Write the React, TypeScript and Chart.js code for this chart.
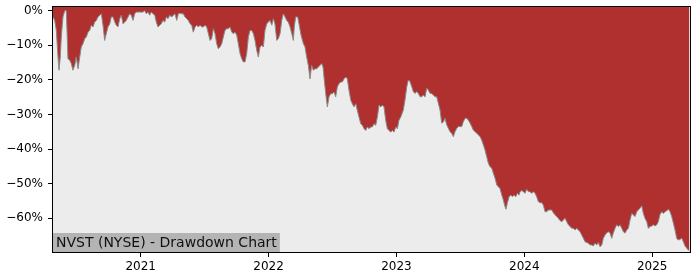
import React, { useEffect, useRef } from "react";
import { Chart, registerables } from "chart.js";

Chart.register(...registerables);

// Dates as decimal years
const dates: number[] = [
  2020.314, 2020.327, 2020.340, 2020.353, 2020.361, 2020.371, 2020.379, 2020.392, 2020.406, 2020.418,
  2020.431, 2020.445, 2020.457, 2020.470, 2020.484, 2020.496, 2020.510, 2020.523, 2020.535, 2020.549,
  2020.562, 2020.575, 2020.588, 2020.601, 2020.614, 2020.627, 2020.640, 2020.653, 2020.666, 2020.679,
  2020.692, 2020.705, 2020.718, 2020.731, 2020.744, 2020.758, 2020.770, 2020.783, 2020.797, 2020.809,
  2020.822, 2020.836, 2020.848, 2020.862, 2020.875, 2020.887, 2020.901, 2020.914, 2020.926, 2020.940,
  2020.953, 2020.966, 2020.992, 2021.018, 2021.031, 2021.044, 2021.057, 2021.070, 2021.083, 2021.096,
  2021.110, 2021.122, 2021.135, 2021.149, 2021.161, 2021.174, 2021.188, 2021.200, 2021.214, 2021.227,
  2021.242, 2021.255, 2021.268, 2021.282, 2021.294, 2021.307, 2021.321, 2021.333, 2021.346, 2021.360,
  2021.372, 2021.386, 2021.399, 2021.411, 2021.425, 2021.438, 2021.451, 2021.464, 2021.477, 2021.490,
  2021.503, 2021.516, 2021.529, 2021.542, 2021.555, 2021.568, 2021.581, 2021.594, 2021.607, 2021.620,
  2021.634, 2021.646, 2021.659, 2021.673, 2021.685, 2021.698, 2021.712, 2021.724, 2021.738, 2021.751,
  2021.763, 2021.777, 2021.790, 2021.802, 2021.816, 2021.829, 2021.842, 2021.855, 2021.868, 2021.881,
  2021.894, 2021.907, 2021.920, 2021.933, 2021.946, 2021.959, 2021.972, 2021.986, 2021.998, 2022.011,
  2022.025, 2022.037, 2022.050, 2022.064, 2022.076, 2022.090, 2022.103, 2022.115,
  2022.129, 2022.142, 2022.154, 2022.168, 2022.181, 2022.194, 2022.201, 2022.212, 2022.228, 2022.238,
  2022.254, 2022.272, 2022.285, 2022.298, 2022.311, 2022.324, 2022.337, 2022.350, 2022.363, 2022.377,
  2022.389, 2022.402, 2022.416, 2022.426, 2022.436, 2022.447, 2022.460, 2022.473, 2022.486, 2022.499,
  2022.512, 2022.525, 2022.538, 2022.551, 2022.564, 2022.577, 2022.590, 2022.603, 2022.616, 2022.629,
  2022.643, 2022.655, 2022.668, 2022.682, 2022.694, 2022.707, 2022.721, 2022.733, 2022.747, 2022.760,
  2022.772, 2022.786, 2022.799, 2022.811, 2022.825, 2022.838, 2022.851, 2022.864, 2022.877, 2022.890,
  2022.903, 2022.916, 2022.929, 2022.942, 2022.955, 2022.968, 2022.981, 2022.995, 2023.007, 2023.020,
  2023.034, 2023.054, 2023.067, 2023.081, 2023.093, 2023.106, 2023.120, 2023.132, 2023.145, 2023.159,
  2023.171, 2023.185, 2023.198, 2023.210, 2023.224, 2023.237, 2023.249, 2023.263, 2023.276, 2023.289,
  2023.302, 2023.315, 2023.328, 2023.341, 2023.354, 2023.367, 2023.380, 2023.393, 2023.406, 2023.419,
  2023.432, 2023.445, 2023.458, 2023.472, 2023.484, 2023.497, 2023.511, 2023.523, 2023.537, 2023.550,
  2023.562, 2023.576, 2023.589, 2023.601, 2023.615, 2023.628, 2023.641, 2023.654, 2023.667, 2023.680,
  2023.693, 2023.706, 2023.719, 2023.732, 2023.745, 2023.758, 2023.771, 2023.785, 2023.797, 2023.810,
  2023.824, 2023.836, 2023.849, 2023.857, 2023.867, 2023.881, 2023.894, 2023.907, 2023.920, 2023.933,
  2023.946, 2023.959,
  2023.967, 2023.980, 2023.993, 2024.006, 2024.019, 2024.032, 2024.045, 2024.058, 2024.071, 2024.084,
  2024.097, 2024.110, 2024.123, 2024.136, 2024.149, 2024.162, 2024.176, 2024.188, 2024.201, 2024.215,
  2024.227, 2024.240, 2024.254, 2024.266, 2024.280, 2024.293, 2024.305, 2024.319, 2024.332, 2024.345,
  2024.358, 2024.371, 2024.384, 2024.397, 2024.410, 2024.423, 2024.436, 2024.449, 2024.462, 2024.475,
  2024.488, 2024.501, 2024.514, 2024.528, 2024.540, 2024.553, 2024.567, 2024.579, 2024.592, 2024.606,
  2024.618, 2024.632, 2024.645, 2024.657, 2024.671, 2024.684, 2024.696, 2024.710, 2024.723, 2024.736,
  2024.749, 2024.762, 2024.775, 2024.788, 2024.801, 2024.814, 2024.827, 2024.840, 2024.853, 2024.866,
  2024.880, 2024.892, 2024.905, 2024.919, 2024.931, 2024.944, 2024.958, 2024.970, 2024.984, 2024.997,
  2025.009, 2025.023, 2025.036, 2025.048, 2025.061, 2025.075, 2025.088, 2025.100, 2025.114, 2025.127,
  2025.140, 2025.153, 2025.166, 2025.179, 2025.192, 2025.205, 2025.218, 2025.232, 2025.244, 2025.257,
  2025.271, 2025.283, 2025.291,
];

// Drawdown in percent
const drawdown: number[] = [
  -1.8, -2.8, -5.7, -13.4, -17.2, -13.4, -7.6, -1.8, 0, 0,
  -13.9, -14.3, -15.3, -17.2, -15.8, -13.4, -16.8, -13.4, -10.5, -9.5,
  -8.1, -7.6, -6.2, -5.7, -4.2, -4.7, -3.3, -2.8, -1.8, -1.3,
  -0.9, -4.2, -8.6, -6.6, -4.7, -3.8, -1.8, -1.8, -3.3, -4.2,
  -4.7, -2.3, -1.3, -3.8, -3.3, -2.8, -1.8, -0.9, -1.3, -2.8,
  -0.9, -0.4, -0.4, -0.4, 0, -0.9, -0.4, -1.3, -0.4, -0.9,
  -1.3, -3.3, -4.7, -4.2, -3.8, -2.8, -3.3, -1.8, -2.3, -1.3,
  -1.8, -1.3, -0.9, -2.8, -0.9, -0.7, -0.9, -0.9, -1.8, -2.3,
  -2.8, -3.8, -4.2, -6.2, -4.7, -4.2, -4.7, -4.2, -4.7, -4.7,
  -4.2, -4.7, -6.6, -8.6, -8.1, -5.2, -6.6, -9.5, -11, -10.5,
  -9.5, -7.6, -5.7, -5.2, -5.2, -4.7, -6.2, -6.6, -6.2, -7.1,
  -9.5, -12.4, -13.9, -14.8, -14.8, -12.4, -7.6, -5.7, -5.7, -6.6,
  -8.6, -11.4, -13.4, -10.5, -10, -10.5, -5.7, -3.8, -3.3, -2.8,
  -4.2, -2.3, -3.8, -8.6, -8.1, -6.6, -2.8, -0.9,
  -1.8, -2.8, -3.3, -4.7, -6.6, -8.6, -4.7, -1.8, -1.8, -3.8,
  -7.1, -9.5, -10.5, -13.4, -15.8, -19.7, -15.8, -17.2, -16.8, -16.8,
  -16.3, -15.8, -15.3, -16.3, -20.1, -24, -27.8, -24.9, -24, -24,
  -23.5, -24.9, -22, -21.1, -20.6, -20.6, -19.7, -19.2, -19.7, -23,
  -25.9, -26.9, -27.8, -26.9, -28.8, -30.7, -32.7, -33.1, -34.1, -34.6,
  -33.6, -34.1, -33.6, -33.6, -32.7, -33.1, -30.7, -27.3, -27.8, -27.3,
  -27.8, -31.7, -34.1, -34.6, -35.1, -34.6, -35.1, -33.6, -34.1, -31.7,
  -30.7, -28.7, -25.8, -22, -20, -20.5, -22, -23.4, -23.9, -23.4,
  -23.9, -24.9, -24.9, -24.4, -24.9, -22.4, -22.9, -23.9, -23.9, -24.4,
  -24.9, -24.9, -26.8, -28.7, -32.5, -32.2, -31.1, -33, -34, -35,
  -35.4, -36.4, -35, -34, -33.5, -33.5, -33.5, -32.1, -31.1, -31.1,
  -31.6, -32.5, -33.5, -34.5, -35, -35.4, -35.9, -36.4, -37.4, -38.8,
  -40.3, -42.2, -44.1, -45.1, -45.5, -47, -48.4, -50.4, -50.9, -51.4,
  -53.3, -54.7, -56.6, -57.4, -55.7, -53.8, -53.3, -53.8, -53.3, -53.8,
  -52.8, -53.3,
  -52.3, -52, -52.3, -52.8, -51.6, -52.3, -52.3, -52.8, -52.3, -52.8,
  -53.8, -55.2, -55.5, -55.5, -56.2, -58.1, -58.1, -57.6, -57.6, -57.6,
  -58.4, -59, -59.5, -60, -60.7, -61, -60.5, -60, -61, -61.9,
  -62.4, -62.9, -62.9, -63.4, -62.9, -63.4, -63.9, -64.8, -65.8, -66.8,
  -67, -67.2, -67.7, -67.7, -68, -67.2, -67.7, -67, -68.2, -67.7,
  -65.8, -64.8, -64.2, -63.9, -64.3, -65.8, -64.3, -62.9, -61.9, -62.4,
  -61.9, -62.9, -63.9, -64.3, -63.4, -62.9, -60.5, -58.6, -59, -59.5,
  -58.1, -57.6, -57.1, -56.4, -58.6, -60, -61, -62.9, -62.4, -62.2,
  -61.9, -62.2, -61.9, -61, -59, -58.1, -58.6, -58.1, -57.8, -57.4,
  -58.1, -59.5, -61.4, -63.4, -65.8, -66.3, -66.1, -65.8, -66.8, -68,
  -68.7, -69.2, -69.4,
];

const yearTicks = [2021, 2022, 2023, 2024, 2025];
const pctTicks = [-60, -50, -40, -30, -20, -10, 0];
const chartLabel = "NVST (NYSE) - Drawdown Chart";

const X_MIN = 2020.314;
const X_MAX = 2025.296;
const Y_MIN = -69.75;
const Y_MAX = 1.07;

const FONT = "'DejaVu Sans', sans-serif";

export default function App() {
  const ref = useRef<HTMLCanvasElement>(null);

  useEffect(() => {
    const canvas = ref.current;
    if (!canvas) return;

    const framePlugin = {
      id: "framePlugin",
      beforeDraw(chart: any) {
        const { ctx, chartArea: a } = chart;
        ctx.save();
        ctx.fillStyle = "#ffffff";
        ctx.fillRect(0, 0, chart.width, chart.height);
        ctx.fillStyle = "#ececec";
        ctx.fillRect(a.left, a.top, a.right - a.left, a.bottom - a.top);
        ctx.restore();
      },
      afterDraw(chart: any) {
        const { ctx, chartArea: a } = chart;
        ctx.save();
        ctx.font = `14px ${FONT}`;
        const tw = ctx.measureText(chartLabel).width;
        const bh = 19;
        ctx.fillStyle = "#b4b4b4";
        ctx.fillRect(a.left, a.bottom - bh, tw + 6, bh);
        ctx.fillStyle = "#111111";
        ctx.textBaseline = "alphabetic";
        ctx.textAlign = "left";
        ctx.fillText(chartLabel, a.left + 3, a.bottom - 5);
        ctx.strokeStyle = "#000000";
        ctx.lineWidth = 1;
        ctx.strokeRect(
          Math.round(a.left) - 0.5,
          Math.round(a.top) - 0.5,
          Math.round(a.right - a.left) + 1,
          Math.round(a.bottom - a.top) + 1
        );
        ctx.restore();
      },
    };

    const chart = new Chart(canvas, {
      type: "line",
      data: {
        datasets: [
          {
            data: dates.map((d, i) => ({ x: d, y: drawdown[i] })),
            borderColor: "#8a8a8a",
            borderWidth: 1,
            backgroundColor: "#b03030",
            fill: "end",
            pointRadius: 0,
            tension: 0,
          },
        ],
      },
      options: {
        responsive: false,
        animation: false,
        devicePixelRatio: 1,
        layout: { padding: { top: 7, right: 10, left: 0, bottom: 0 } },
        plugins: {
          legend: { display: false },
          tooltip: { enabled: false },
        },
        scales: {
          x: {
            type: "linear",
            min: X_MIN,
            max: X_MAX,
            afterBuildTicks: (s: any) => {
              s.ticks = yearTicks.map((v) => ({ value: v }));
            },
            afterFit: (s: any) => {
              s.height = 28;
              s.paddingLeft = 0;
              s.paddingRight = 0;
            },
            ticks: {
              callback: (v: any) => String(v),
              color: "#000",
              font: { family: FONT, size: 12 },
              padding: 3,
              maxRotation: 0,
              autoSkip: false,
            },
            grid: {
              display: true,
              drawOnChartArea: false,
              drawTicks: true,
              tickLength: 5,
              color: "#000",
              lineWidth: 1,
            },
            border: { display: false },
          },
          y: {
            type: "linear",
            min: Y_MIN,
            max: Y_MAX,
            afterBuildTicks: (s: any) => {
              s.ticks = pctTicks.map((v) => ({ value: v }));
            },
            afterFit: (s: any) => {
              s.width = 53;
              s.paddingTop = 0;
              s.paddingBottom = 0;
            },
            ticks: {
              callback: (v: any) => (v === 0 ? "0%" : "\u2212" + Math.abs(v) + "%"),
              color: "#000",
              font: { family: FONT, size: 12 },
              padding: 5,
              autoSkip: false,
            },
            grid: {
              display: true,
              drawOnChartArea: false,
              drawTicks: true,
              tickLength: 5,
              color: "#000",
              lineWidth: 1,
            },
            border: { display: false },
          },
        },
      },
      plugins: [framePlugin],
    } as any);

    return () => chart.destroy();
  }, []);

  return (
    <div style={{ position: "fixed", left: 0, top: 0, width: 700, height: 280, background: "#fff" }}>
      <canvas ref={ref} width={700} height={280} style={{ width: 700, height: 280, display: "block" }} />
    </div>
  );
}
